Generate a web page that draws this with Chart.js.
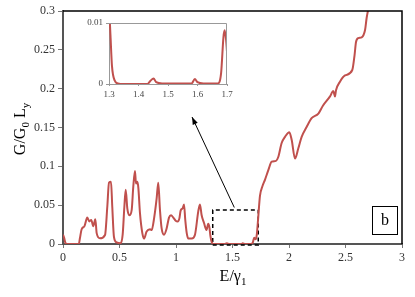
<!DOCTYPE html>
<html lang="en">
<head>
<meta charset="UTF-8">
<title>G/G0 Ly vs E/gamma1</title>
<script src="https://cdn.jsdelivr.net/npm/chart.js@4"></script>
<style>
  body { margin: 0; background: #fff; }
  #wrap { position: relative; width: 415px; height: 297px; }
  #main { position: absolute; left: 0; top: 0; }
  #inset { position: absolute; left: 80px; top: 12px; }
</style>
</head>
<body>
<div id="wrap">
  <canvas id="main" width="415" height="297"></canvas>
  <canvas id="inset" width="160" height="92"></canvas>
</div>
<script>
// main curve
const energy = [0, 0.01, 0.02, 0.03, 0.14, 0.15, 0.165, 0.19, 0.215, 0.233, 0.25, 0.268, 0.286, 0.298, 0.327, 0.372,
  0.392, 0.407, 0.425, 0.436, 0.451, 0.475, 0.51, 0.528, 0.543, 0.555, 0.569, 0.587, 0.608, 0.622, 0.637, 0.646,
  0.658, 0.667, 0.681, 0.702, 0.717, 0.74, 0.77, 0.785, 0.808, 0.829, 0.843, 0.858, 0.873, 0.894, 0.917, 0.938,
  0.956, 0.976, 0.997, 1.015, 1.03, 1.041, 1.059, 1.071, 1.082, 1.095, 1.109, 1.139, 1.168, 1.197, 1.212, 1.227,
  1.248, 1.27, 1.285, 1.295, 1.305, 1.315, 1.33, 1.43, 1.45, 1.47, 1.58, 1.59, 1.61, 1.665, 1.68, 1.692, 1.705,
  1.715, 1.728, 1.743, 1.764, 1.788, 1.817, 1.847, 1.885, 1.905, 1.935, 1.965, 2.003, 2.024, 2.053, 2.082, 2.112,
  2.157, 2.2, 2.26, 2.3, 2.363, 2.392, 2.407, 2.416, 2.451, 2.496, 2.56, 2.58, 2.593, 2.613, 2.643, 2.673, 2.687, 2.705];
const conductance = [0.012, 0.008, 0.002, 0, 0, 0.0077, 0.019, 0.023, 0.034, 0.029, 0.031, 0.023, 0.032, 0.014, 0.0073, 0.0116,
  0.048, 0.079, 0.080, 0.048, 0.009, 0.002, 0.001, 0.012, 0.048, 0.070, 0.046, 0.037, 0.044, 0.074, 0.094, 0.078,
  0.080, 0.072, 0.040, 0.014, 0.007, 0.016, 0.019, 0.018, 0.035, 0.059, 0.079, 0.044, 0.020, 0.012, 0.020, 0.034,
  0.037, 0.034, 0.030, 0.029, 0.033, 0.043, 0.046, 0.051, 0.031, 0.014, 0.007, 0.007, 0.012, 0.042, 0.051, 0.037,
  0.027, 0.018, 0.026, 0.022, 0.010, 0.003, 0, 0, 0.001, 0, 0, 0.001, 0, 0, 0.002, 0.008, 0.006,
  0.012, 0.035, 0.062, 0.074, 0.083, 0.095, 0.106, 0.107, 0.112, 0.130, 0.138, 0.144, 0.134, 0.110, 0.123, 0.138,
  0.151, 0.162, 0.168, 0.178, 0.190, 0.197, 0.190, 0.198, 0.209, 0.217, 0.224, 0.243, 0.260, 0.265, 0.266, 0.2755, 0.291, 0.305];

// inset curve (1.3 to 1.7)
const insetEnergy = [1.3, 1.305, 1.31, 1.32, 1.33, 1.35, 1.43, 1.44, 1.451, 1.46, 1.48, 1.58, 1.591, 1.6, 1.62,
  1.669, 1.68, 1.688, 1.692, 1.697, 1.7];
const insetConductance = [0.013, 0.008, 0.003, 0.0005, 0.0001, 0, 0, 0.0005, 0.0009, 0.0003, 0.0001, 0.0001, 0.0008, 0.0003, 0.0001,
  0.0001, 0.0018, 0.0077, 0.0088, 0.0072, 0.0053];

const xTicks = [0, 0.5, 1, 1.5, 2, 2.5, 3];
const yTicks = [0, 0.05, 0.1, 0.15, 0.2, 0.25, 0.3];
const insetXTicks = [1.3, 1.4, 1.5, 1.6, 1.7];
const insetYTicks = [0, 0.01];

// zoom window and arrow, in data units
const zoomBoxX = [1.325, 1.728];
const zoomBoxY = [-0.0013, 0.0438];
const arrowFrom = [1.516, 0.047];
const arrowTo = [1.142, 0.1635];

const red = "#c0504d";
const serif = "'Liberation Serif', 'DejaVu Serif', serif";

const boxPts = [
  {x: zoomBoxX[0], y: zoomBoxY[0]}, {x: zoomBoxX[1], y: zoomBoxY[0]},
  {x: zoomBoxX[1], y: zoomBoxY[1]}, {x: zoomBoxX[0], y: zoomBoxY[1]},
  {x: zoomBoxX[0], y: zoomBoxY[0]}
];

const plain = v => String(+v.toFixed(4));

const decorations = {
  id: "decorations",
  afterDraw(chart) {
    const ctx = chart.ctx, a = chart.chartArea;
    const xs = chart.scales.x, ys = chart.scales.y;
    ctx.save();
    // top and right frame
    ctx.strokeStyle = "#000";
    ctx.lineWidth = 1.5;
    ctx.beginPath();
    ctx.moveTo(a.left, a.top);
    ctx.lineTo(a.right, a.top);
    ctx.lineTo(a.right, a.bottom);
    ctx.stroke();

    // arrow head
    const x1 = xs.getPixelForValue(arrowFrom[0]), y1 = ys.getPixelForValue(arrowFrom[1]);
    const x2 = xs.getPixelForValue(arrowTo[0]), y2 = ys.getPixelForValue(arrowTo[1]);
    const ang = Math.atan2(y2 - y1, x2 - x1);
    ctx.fillStyle = "#000";
    ctx.beginPath();
    ctx.moveTo(x2, y2);
    ctx.lineTo(x2 - 8 * Math.cos(ang - 0.35), y2 - 8 * Math.sin(ang - 0.35));
    ctx.lineTo(x2 - 8 * Math.cos(ang + 0.35), y2 - 8 * Math.sin(ang + 0.35));
    ctx.closePath();
    ctx.fill();

    // "b" panel label
    ctx.lineWidth = 1;
    ctx.strokeStyle = "#000";
    ctx.fillStyle = "#fff";
    ctx.fillRect(372, 206, 26, 29);
    ctx.strokeRect(372.5, 206.5, 25, 28);
    ctx.fillStyle = "#000";
    ctx.font = "16px " + serif;
    ctx.textAlign = "center";
    ctx.textBaseline = "middle";
    ctx.fillText("b", 385, 221);

    // x title E/γ1
    ctx.textAlign = "left";
    ctx.textBaseline = "alphabetic";
    ctx.font = "16px " + serif;
    let w = ctx.measureText("E/γ").width;
    ctx.font = "11px " + serif;
    let ws = ctx.measureText("1").width;
    let sx = 233 - (w + ws) / 2;
    ctx.font = "16px " + serif;
    ctx.fillText("E/γ", sx, 281);
    ctx.font = "11px " + serif;
    ctx.fillText("1", sx + w, 285);

    // y title G/G0 Ly, rotated
    ctx.translate(25, 129);
    ctx.rotate(-Math.PI / 2);
    const parts = [["G/G", 16, 0], ["0", 11, 4], [" L", 16, 0], ["y", 11, 4]];
    let total = 0;
    parts.forEach(p => { ctx.font = p[1] + "px " + serif; total += ctx.measureText(p[0]).width; });
    let cx = -total / 2;
    parts.forEach(p => {
      ctx.font = p[1] + "px " + serif;
      ctx.fillText(p[0], cx, p[2]);
      cx += ctx.measureText(p[0]).width;
    });
    ctx.restore();
  }
};

new Chart("main", {
  type: "line",
  data: {
    datasets: [
      {
        data: energy.map((e, i) => ({x: e, y: conductance[i]})),
        borderColor: red,
        borderWidth: 2,
        pointRadius: 0,
        cubicInterpolationMode: "monotone"
      },
      {
        data: boxPts,
        borderColor: "#000",
        borderWidth: 1.5,
        borderDash: [4, 3],
        pointRadius: 0,
        tension: 0,
        clip: false
      },
      {
        data: [{x: arrowFrom[0], y: arrowFrom[1]}, {x: arrowTo[0], y: arrowTo[1]}],
        borderColor: "#000",
        borderWidth: 1,
        pointRadius: 0,
        tension: 0,
        clip: false
      }
    ]
  },
  options: {
    responsive: false,
    animation: false,
    events: [],
    layout: {padding: {left: 0, top: 11, right: 13, bottom: 0}},
    plugins: {legend: {display: false}, tooltip: {enabled: false}},
    scales: {
      x: {
        type: "linear", min: 0, max: 3,
        afterBuildTicks: s => { s.ticks = xTicks.map(v => ({value: v})); },
        afterFit: s => { s.height = 53; },
        border: {color: "#555", width: 2},
        grid: {drawOnChartArea: false, tickLength: 4, color: "#777"},
        ticks: {color: "#333", font: {family: serif, size: 12}, padding: 3, maxRotation: 0, callback: plain}
      },
      y: {
        min: 0, max: 0.3,
        afterBuildTicks: s => { s.ticks = yTicks.map(v => ({value: v})); },
        afterFit: s => { s.width = 63; },
        border: {color: "#555", width: 2},
        grid: {drawOnChartArea: false, tickLength: 5, color: "#777"},
        ticks: {color: "#333", font: {family: serif, size: 12}, padding: 3, callback: plain}
      }
    }
  },
  plugins: [decorations]
});

const insetFrame = {
  id: "insetFrame",
  afterDraw(chart) {
    const ctx = chart.ctx, a = chart.chartArea;
    ctx.save();
    ctx.strokeStyle = "#999";
    ctx.lineWidth = 1;
    ctx.beginPath();
    ctx.moveTo(a.left, a.top + 0.5);
    ctx.lineTo(a.right - 0.5, a.top + 0.5);
    ctx.lineTo(a.right - 0.5, a.bottom);
    ctx.stroke();
    ctx.restore();
  }
};

new Chart("inset", {
  type: "line",
  data: {
    datasets: [{
      data: insetEnergy.map((e, i) => ({x: e, y: insetConductance[i]})),
      borderColor: red,
      borderWidth: 2,
      pointRadius: 0,
      cubicInterpolationMode: "monotone"
    }]
  },
  options: {
    responsive: false,
    animation: false,
    events: [],
    layout: {padding: {left: 0, top: 11, right: 13, bottom: 0}},
    plugins: {legend: {display: false}, tooltip: {enabled: false}},
    scales: {
      x: {
        type: "linear", min: 1.3, max: 1.7,
        afterBuildTicks: s => { s.ticks = insetXTicks.map(v => ({value: v})); },
        afterFit: s => { s.height = 20; },
        border: {color: "#999", width: 1},
        grid: {drawOnChartArea: false, tickLength: 2, color: "#999"},
        ticks: {color: "#444", font: {family: serif, size: 9}, padding: 3, maxRotation: 0, callback: plain}
      },
      y: {
        min: 0, max: 0.01,
        afterBuildTicks: s => { s.ticks = insetYTicks.map(v => ({value: v})); },
        afterFit: s => { s.width = 29; },
        border: {color: "#999", width: 1},
        grid: {drawOnChartArea: false, tickLength: 3, color: "#999"},
        ticks: {color: "#444", font: {family: serif, size: 9}, padding: 3, callback: plain}
      }
    }
  },
  plugins: [insetFrame]
});
</script>
</body>
</html>
